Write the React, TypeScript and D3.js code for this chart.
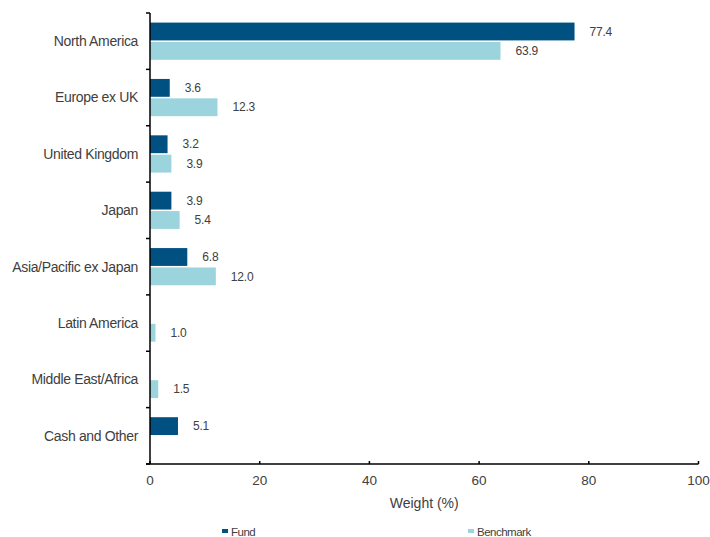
import React from "react";
import * as d3 from "d3";

const categories = [
  "North America",
  "Europe ex UK",
  "United Kingdom",
  "Japan",
  "Asia/Pacific ex Japan",
  "Latin America",
  "Middle East/Africa",
  "Cash and Other",
];
const fundValues: (number | null)[] = [77.4, 3.6, 3.2, 3.9, 6.8, null, null, 5.1];
const benchmarkValues: (number | null)[] = [63.9, 12.3, 3.9, 5.4, 12.0, 1.0, 1.5, null];
const seriesNames = ["Fund", "Benchmark"];
const xTicks = [0, 20, 40, 60, 80, 100];

const W = 710;
const H = 537;
const left = 150;
const right = 698.5;
const top = 13;
const bottom = 464;
const colors = ["#005082", "#9bd4dd"];
const font = "'Liberation Sans', Arial, sans-serif";

export default function App() {
  const x = d3.scaleLinear().domain([0, 100]).range([left, right]);
  const y0 = d3
    .scaleBand<string>()
    .domain(categories)
    .range([top, bottom])
    .paddingInner(0.34)
    .paddingOuter(0.17);
  const y1 = d3.scaleBand<string>().domain(seriesNames).range([0, y0.bandwidth()]).paddingInner(0.08);
  const series = [fundValues, benchmarkValues];
  const step = y0.step();
  const boundaries = d3.range(categories.length + 1).map((i) => top + i * step);

  return (
    <svg
      width={W}
      height={H}
      style={{ position: "absolute", left: 0, top: 0, background: "#fff" }}
      fontFamily={font}
    >
      {categories.map((c, ci) => (
        <g key={c}>
          {series.map((vals, si) => {
            const v = vals[ci];
            if (v == null) return null;
            const yy = (y0(c) as number) + (y1(seriesNames[si]) as number);
            return (
              <g key={si}>
                <rect
                  x={x(0)}
                  y={yy}
                  width={x(v) - x(0)}
                  height={y1.bandwidth()}
                  fill={colors[si]}
                />
                <text
                  x={x(v) + 15}
                  y={yy + y1.bandwidth() / 2}
                  dy="0.35em"
                  fontSize={12}
                  fill="#404040"
                  letterSpacing={-0.2}
                >
                  {v.toFixed(1)}
                </text>
              </g>
            );
          })}
          <text
            x={138}
            y={(y0(c) as number) + y0.bandwidth() / 2}
            dy="0.35em"
            textAnchor="end"
            fontSize={14}
            fill="#404040"
            letterSpacing={-0.35}
          >
            {c}
          </text>
        </g>
      ))}
      {/* y axis */}
      <line x1={left} x2={left} y1={top} y2={bottom} stroke="#000" strokeWidth={1.5} />
      {boundaries.map((b, i) => (
        <line key={i} x1={left - 4} x2={left} y1={b} y2={b} stroke="#000" strokeWidth={1.5} />
      ))}
      {/* x axis */}
      <line x1={left - 4} x2={right} y1={bottom} y2={bottom} stroke="#000" strokeWidth={1.5} />
      {xTicks.map((t) => (
        <g key={t}>
          <line x1={x(t)} x2={x(t)} y1={bottom - 3} y2={bottom} stroke="#000" strokeWidth={1.5} />
          <text
            x={x(t)}
            y={bottom + 16}
            dy="0.35em"
            textAnchor="middle"
            fontSize={13.5}
            fill="#404040"
          >
            {t}
          </text>
        </g>
      ))}
      <text
        x={(left + right) / 2}
        y={503}
        dy="0.35em"
        textAnchor="middle"
        fontSize={14}
        fill="#404040"
      >
        Weight (%)
      </text>
      {/* legend */}
      {seriesNames.map((s, i) => {
        const lx = [222, 468][i];
        return (
          <g key={s}>
            <rect x={lx} y={529} width={6} height={4} fill={colors[i]} />
            <text x={lx + 9} y={532} dy="0.35em" fontSize={11.5} fill="#404040" letterSpacing={-0.5}>
              {s}
            </text>
          </g>
        );
      })}
    </svg>
  );
}
